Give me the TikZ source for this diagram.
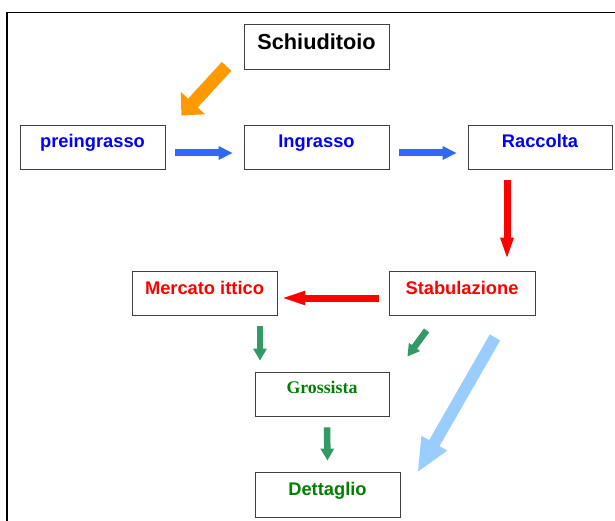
\documentclass[tikz,border=0pt]{standalone}
\usepackage{fontspec}
\setmainfont{Liberation Sans}
\newfontfamily\timesbold{Liberation Serif}
\usetikzlibrary{arrows.meta}
\definecolor{arrorange}{HTML}{FF9900}
\definecolor{arrblue}{HTML}{3366FF}
\definecolor{arrgreen}{HTML}{339966}
\definecolor{arrsky}{HTML}{99CCFF}
\definecolor{txtblue}{HTML}{0000FF}
\definecolor{txtgreen}{HTML}{008000}

\begin{document}
\begin{tikzpicture}[x=1pt, y=-1pt, font=\bfseries\fontsize{18.3}{22}\selectfont,
		box/.style={draw=black!75, line width=0.8pt, minimum width=145pt, minimum height=44pt,
			inner sep=0pt, text height=23pt, text depth=21pt},
		fat/.style={line width=7pt, -{Triangle[length=14pt,width=13pt]}},
		thin/.style={line width=6.5pt, -{Triangle[length=12pt,width=13pt]}}]
		\useasboundingbox (0,0) rectangle (615,521);
		\draw[line width=1.3pt] (615,12.5) -- (7,12.5) -- (7,521);
		% boxes
		\node[box, text height=26pt, text depth=19pt, minimum height=45pt,
			font=\bfseries\fontsize{21.7}{24}\selectfont] (schiuditoio) at (316.5,46.5) {Schiuditoio};
		\node[box, text=txtblue] (preingrasso) at (92.5,147) {preingrasso};
		\node[box, text=txtblue] (ingrasso) at (316.5,147) {Ingrasso};
		\node[box, text=txtblue, minimum width=144pt] (raccolta) at (540,147) {Raccolta};
		\node[box, text=red] (mercato) at (204.5,293) {Mercato ittico};
		\node[box, text=red, minimum width=146pt] (stabulazione) at (462,293) {Stabulazione};
		\node[box, text=txtgreen, minimum width=134pt, text height=21pt, text depth=23pt,
			font=\timesbold\bfseries\fontsize{17.8}{20}\selectfont] (grossista) at (322,394) {Grossista};
		\node[box, text=txtgreen, minimum height=45pt, text depth=22pt] (dettaglio) at (327.5,494.5) {Dettaglio};
		% arrows
		\draw[arrorange, line width=13pt, -{Triangle[length=17pt,width=32pt]}]
			([shift={(-17,-3)}]schiuditoio.south west) -- ([shift={(16,-9)}]preingrasso.north east);
		\foreach \a/\b in {preingrasso/ingrasso, ingrasso/raccolta}
			\draw[fat, arrblue] ([shift={(10,6)}]\a.east) -- ([shift={(-11,6)}]\b.west);
		\draw[fat, red, -{Triangle[length=22pt,width=12pt]}]
			([shift={(-33,11)}]raccolta.south) -- ([shift={(45,-11)}]stabulazione.north);
		\draw[fat, red, -{Triangle[length=27pt,width=12pt]}]
			([shift={(-10,5)}]stabulazione.west) -- ([shift={(1,5)}]mercato.east);
		\draw[thin, arrgreen] ([shift={(55.5,11)}]mercato.south) -- ([shift={(-62,-11)}]grossista.north);
		\draw[thin, arrgreen] ([shift={(38,15)}]stabulazione.south west) -- ([shift={(18,-15)}]grossista.north east);
		\draw[thin, arrgreen] ([shift={(5,11)}]grossista.south) -- ([shift={(0,-11)}]dettaglio.north);
		\draw[arrsky, line width=12pt, -{Triangle[length=34pt,width=27pt]}]
			([shift={(33,22)}]stabulazione.south) -- ([shift={(17,1)}]dettaglio.north east);
	\end{tikzpicture}
\end{document}
